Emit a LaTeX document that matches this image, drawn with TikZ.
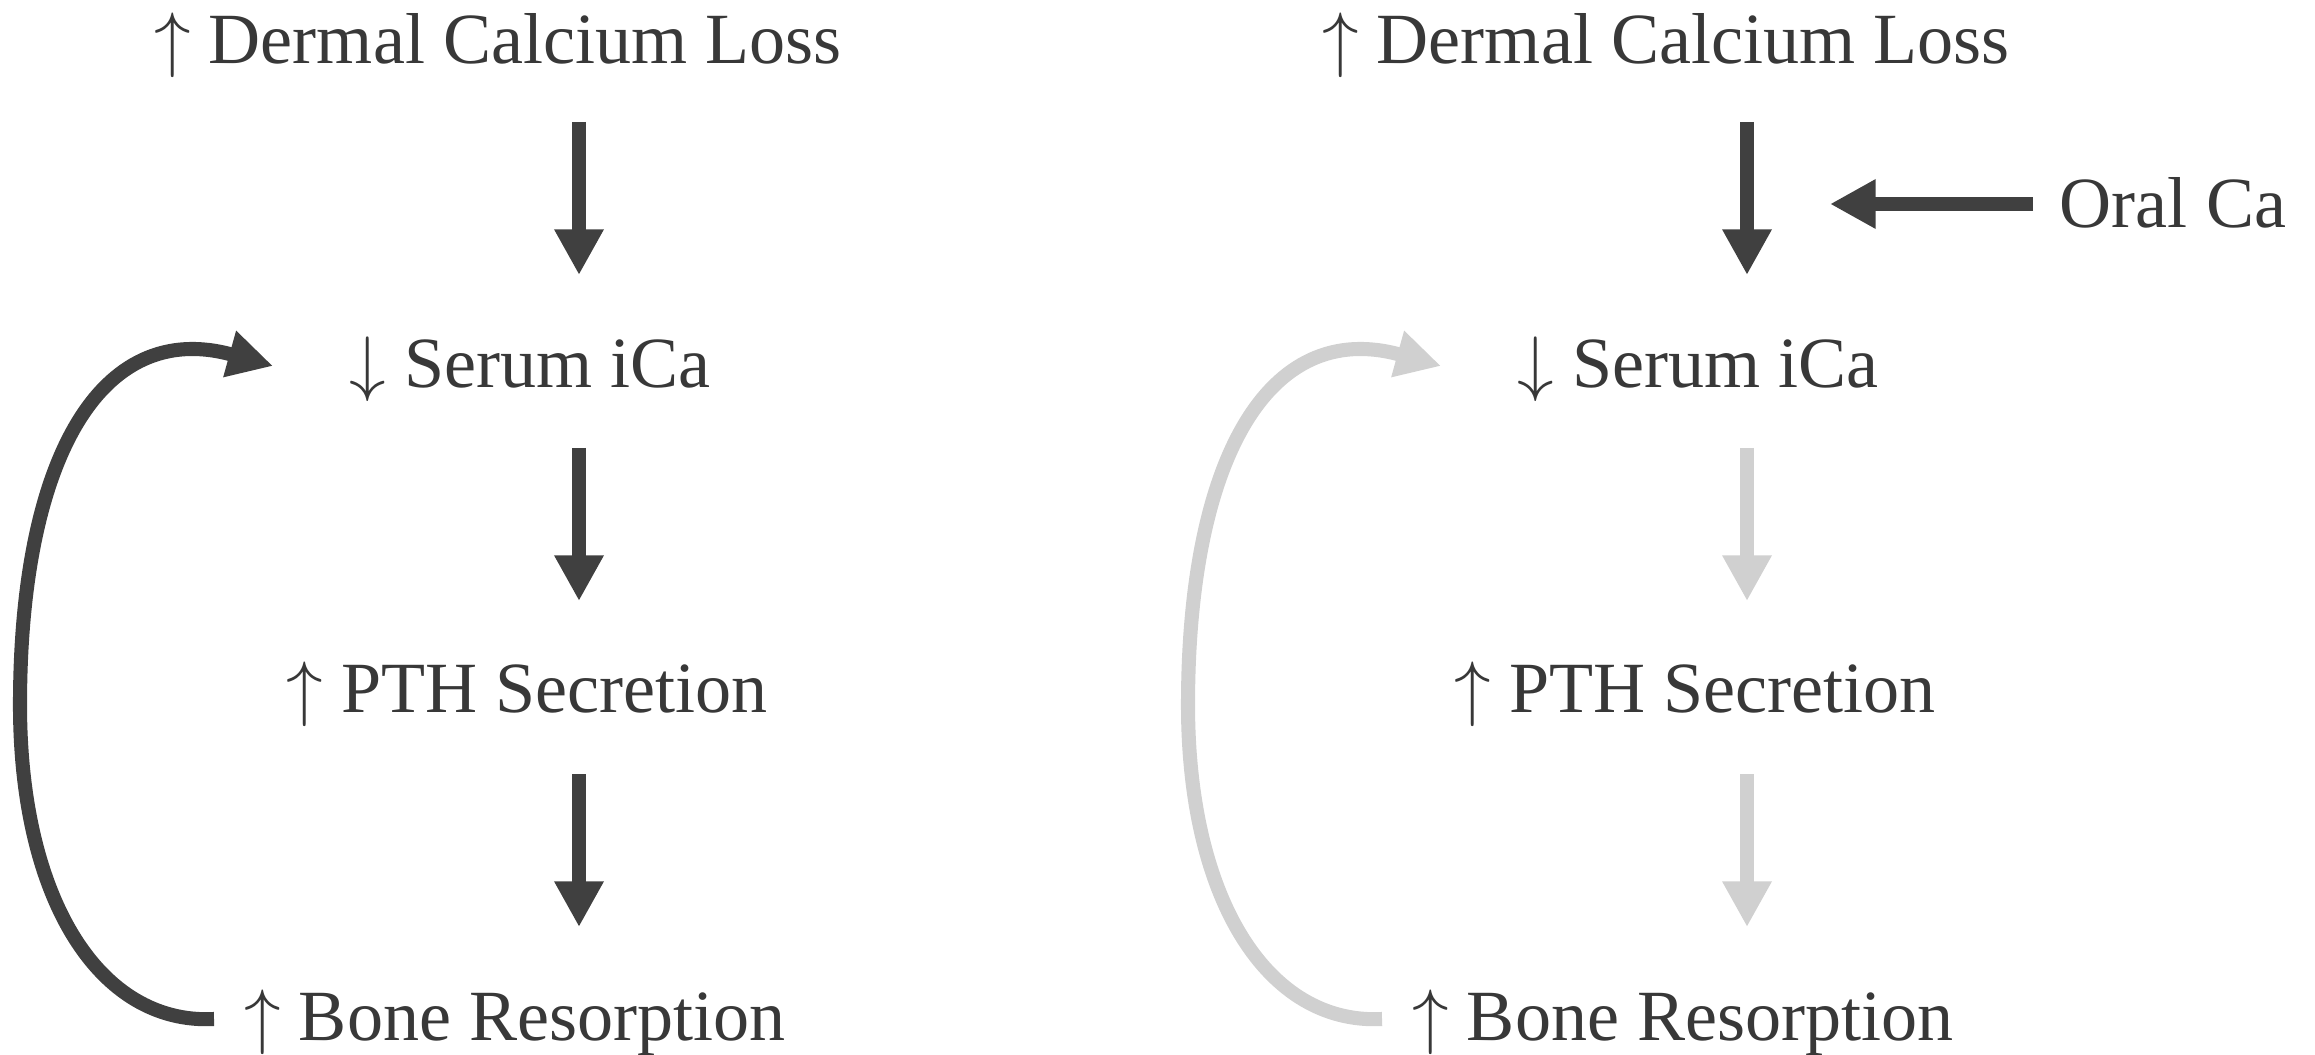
\documentclass[tikz,border=0pt]{standalone}
\usepackage{fontspec}
\setmainfont{Liberation Serif}
\usetikzlibrary{arrows.meta}
\definecolor{dk}{HTML}{404040}
\definecolor{lt}{HTML}{D0D0D0}
\definecolor{txt}{HTML}{383838}
\newcommand{\upar}{$\uparrow$}
\newcommand{\dnar}{$\downarrow$}
\begin{document}
\begin{tikzpicture}[x=0.01cm,y=-0.01cm,
  lbl/.style={font=\fontsize{20.5}{24}\selectfont, text=txt, inner sep=0pt, anchor=base},
  flow/.style={line width=4.1pt, -{Triangle[width=13.2pt,length=13pt]}},
  loopar/.style={line width=4pt, -{Triangle[width=12.8pt,length=12.8pt]}}]
\useasboundingbox (0,0) rectangle (2315,1055);

% ---- left panel ----
\node[lbl] (dL) at (498,64) {\upar\ Dermal Calcium Loss};
\node[lbl] (sL) at (530,388) {\dnar\ Serum iCa};
\node[lbl] (pL) at (527,712) {\upar\ PTH Secretion};
\node[lbl] (bL) at (515,1040) {\upar\ Bone Resorption};

\coordinate (a1L) at (579,122); \coordinate (a1Le) at (579,275);
\coordinate (a2L) at (579,448); \coordinate (a2Le) at (579,601);
\coordinate (a3L) at (579,774); \coordinate (a3Le) at (579,927);
\draw[flow, dk] (a1L) -- (a1Le);
\draw[flow, dk] (a2L) -- (a2Le);
\draw[flow, dk] (a3L) -- (a3Le);

\coordinate (cLs) at (214,1019); \coordinate (cLe) at (273,366);
\draw[loopar, dk] (cLs) .. controls (100,1025) and (20,900) .. (20,705)
  .. controls (20,460) and (100,318) .. (cLe);

% ---- right panel ----
\node[lbl] (dR) at (1666,64) {\upar\ Dermal Calcium Loss};
\node[lbl] (sR) at (1698,388) {\dnar\ Serum iCa};
\node[lbl] (pR) at (1695,712) {\upar\ PTH Secretion};
\node[lbl] (bR) at (1683,1040) {\upar\ Bone Resorption};
\node[lbl] (oR) at (2173,228) {Oral Ca};

\coordinate (a1R) at (1747,122); \coordinate (a1Re) at (1747,275);
\coordinate (a2R) at (1747,448); \coordinate (a2Re) at (1747,601);
\coordinate (a3R) at (1747,774); \coordinate (a3Re) at (1747,927);
\coordinate (oRs) at (2033,204); \coordinate (oRe) at (1830,204);
\draw[flow, dk] (a1R) -- (a1Re);
\draw[flow, lt] (a2R) -- (a2Re);
\draw[flow, lt] (a3R) -- (a3Re);
\draw[flow, dk] (oRs) -- (oRe);

\coordinate (cRs) at (1382,1019); \coordinate (cRe) at (1441,366);
\draw[loopar, lt] (cRs) .. controls (1268,1025) and (1188,900) .. (1188,705)
  .. controls (1188,460) and (1268,318) .. (cRe);
\end{tikzpicture}
\end{document}
